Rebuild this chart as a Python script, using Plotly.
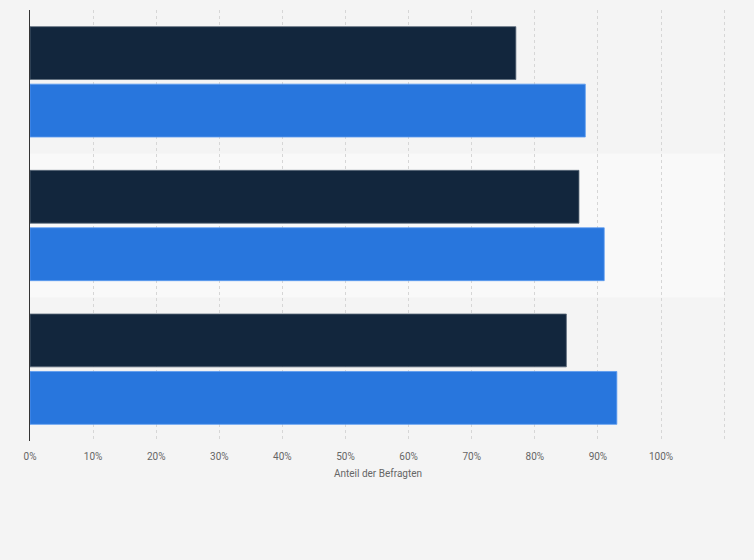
import plotly.graph_objects as go

categories = ['Kategorie 1', 'Kategorie 2', 'Kategorie 3']
serie_1 = [77, 87, 85]
serie_2 = [88, 91, 93]
tick_vals = [0, 10, 20, 30, 40, 50, 60, 70, 80, 90, 100, 110]
tick_text = ['0%', '10%', '20%', '30%', '40%', '50%', '60%', '70%', '80%', '90%', '100%', '']

fig = go.Figure()
fig.add_trace(go.Bar(
    y=categories,
    x=serie_1,
    name='Serie 1',
    orientation='h',
    marker=dict(color='#12263d', line=dict(color='#5a6a7a', width=0.8))
))
fig.add_trace(go.Bar(
    y=categories,
    x=serie_2,
    name='Serie 2',
    orientation='h',
    marker=dict(color='#2876dd', line=dict(color='#5b9bf0', width=0.8))
))

# lighter band behind the middle category
fig.add_shape(
    type='rect', xref='x', yref='y',
    x0=0, x1=110, y0=0.5, y1=1.5,
    fillcolor='#f9f9f9', line=dict(width=0), layer='below'
)

fig.update_layout(
    width=754,
    height=560,
    barmode='group',
    bargap=0.2,
    bargroupgap=0.08,
    showlegend=False,
    paper_bgcolor='#f4f4f4',
    plot_bgcolor='#f4f4f4',
    margin=dict(l=30, r=28, t=10, b=119),
    font=dict(family='Roboto, Arial, sans-serif', color='#666666'),
    xaxis=dict(
        range=[0, 110.3],
        tickvals=tick_vals,
        ticktext=tick_text,
        tickfont=dict(size=10, color='#666666'),
        showgrid=True,
        gridcolor='#d6d6d6',
        griddash='dot',
        gridwidth=1,
        zeroline=False,
        showline=False,
        ticks='',
        ticklabelstandoff=8,
        title=dict(text='Anteil der Befragten', font=dict(size=10, color='#666666'), standoff=8),
    ),
    yaxis=dict(
        autorange='reversed',
        showticklabels=False,
        showgrid=False,
        zeroline=False,
        showline=True,
        linecolor='#333333',
        linewidth=1,
        ticks='',
    ),
)

fig.write_html('out.html', config=dict(displayModeBar=False),
               post_script="document.body.style.margin='0';document.body.style.background='#f4f4f4';")
